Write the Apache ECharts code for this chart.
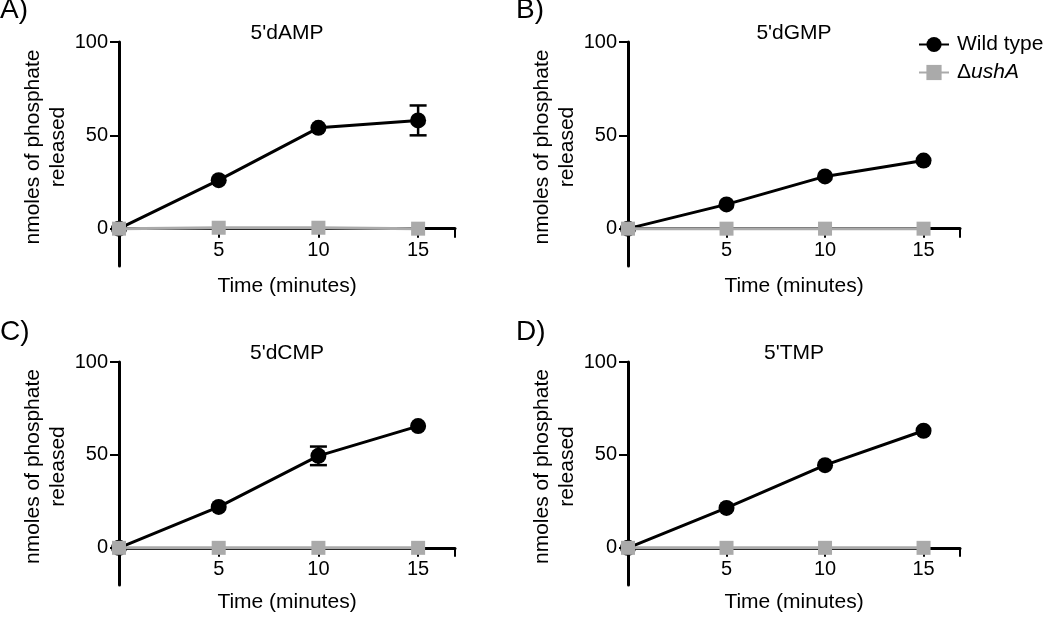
<!DOCTYPE html>
<html>
<head>
<meta charset="utf-8">
<script src="https://cdn.jsdelivr.net/npm/echarts@6/dist/echarts.min.js"></script>
<style>
html,body{margin:0;padding:0;background:#fff;}
#chart{width:1050px;height:617px;}
</style>
</head>
<body>
<div id="chart"></div>
<script>
// ---- data ----
const times = [0, 5, 10, 15];
const panelLetters = ['A)', 'B)', 'C)', 'D)'];
const panelTitles = ["5'dAMP", "5'dGMP", "5'dCMP", "5'TMP"];
const wildType = [
  [0, 26, 54, 58],
  [0, 13, 28, 36.5],
  [0, 22, 49.5, 65.5],
  [0, 21.5, 44.5, 63]
];
const ushA = [
  [0, 0.5, 0.5, 0],
  [0, 0, 0, 0],
  [0, 0, 0, 0],
  [0, 0, 0, 0]
];
// error bars: [time, low, high]
const errorBars = [
  [[15, 50, 66]],
  [],
  [[10, 44.5, 54.5]],
  []
];
const yTicks = [0, 50, 100];
const xTickStep = 5;
const seriesNames = ['Wild type', 'ΔushA'];
const xName = 'Time (minutes)';
const yName = 'nmoles of phosphate\nreleased';

// ---- layout ----
const FONT = '"Liberation Sans", Arial, Helvetica, sans-serif';
const Y_MIN = -20, Y_MAX = 100, X_MAX = 16.85;
const grids = [
  {left: 119, top: 42, width: 336, height: 224},
  {left: 628, top: 42, width: 332, height: 224},
  {left: 119, top: 362, width: 336, height: 223},
  {left: 628, top: 362, width: 332, height: 223}
];
const xNameGaps = [47, 47, 44, 44];
const letterPos = [[0, -4], [516, -4], [0, 318], [516, 318]];
const GRAY = '#aaaaaa';

const option = {
  backgroundColor: '#fff',
  animation: false,
  textStyle: {fontFamily: FONT, color: '#000'},
  title: grids.map((g, i) => ({
    text: panelTitles[i],
    left: g.left + g.width / 2,
    top: g.top - 19,
    textAlign: 'center',
    padding: 0,
    textStyle: {fontFamily: FONT, fontSize: 21, fontWeight: 'normal', color: '#000'}
  })),
  graphic: letterPos.map((p, i) => ({
    type: 'text', left: p[0], top: p[1],
    style: {text: panelLetters[i], font: '28px ' + FONT, fill: '#000'}
  })),
  legend: {
    left: 913, top: 29, orient: 'vertical',
    itemWidth: 30, itemHeight: 19, itemGap: 7,
    data: seriesNames,
    formatter: function (n) { return n === 'ΔushA' ? '{n|Δ}{i|ushA}' : n; },
    textStyle: {
      fontFamily: FONT, fontSize: 21, color: '#000', padding: [0, 0, 0, 3],
      rich: {
        n: {fontFamily: FONT, fontSize: 21, color: '#000'},
        i: {fontFamily: FONT, fontSize: 21, color: '#000', fontStyle: 'italic'}
      }
    }
  },
  grid: grids.map(g => Object.assign({outerBoundsMode: 'none', containLabel: false}, g)),
  xAxis: grids.map((g, i) => ({
    gridIndex: i, type: 'value', min: 0, max: X_MAX, interval: xTickStep,
    position: 'bottom',
    offset: -g.height * (0 - Y_MIN) / (Y_MAX - Y_MIN),
    name: xName, nameLocation: 'middle', nameGap: xNameGaps[i],
    nameTextStyle: {fontFamily: FONT, fontSize: 21, color: '#000'},
    axisLine: {onZero: false, lineStyle: {color: '#000', width: 3}},
    axisTick: {show: true, length: 9, lineStyle: {color: '#000', width: 2}},
    axisLabel: {
      fontFamily: FONT, fontSize: 20, color: '#000', margin: 12,
      formatter: v => (v > 0 && v % xTickStep === 0) ? String(v) : ''
    },
    splitLine: {show: false}
  })),
  yAxis: grids.map((g, i) => ({
    gridIndex: i, type: 'value', min: Y_MIN, max: Y_MAX,
    name: yName, nameLocation: 'middle', nameGap: 46,
    nameTextStyle: {fontFamily: FONT, fontSize: 21, color: '#000', lineHeight: 25, padding: [0, 0, 0, 14]},
    axisLine: {show: true, onZero: false, lineStyle: {color: '#000', width: 3}},
    axisTick: {show: true, length: 9, customValues: yTicks, lineStyle: {color: '#000', width: 2}},
    axisLabel: {fontFamily: FONT, fontSize: 20, color: '#000', margin: 11, customValues: yTicks},
    splitLine: {show: false}
  })),
  series: []
};

grids.forEach((g, i) => {
  option.series.push({
    name: 'Wild type', type: 'line', xAxisIndex: i, yAxisIndex: i,
    data: times.map((t, k) => [t, wildType[i][k]]),
    symbol: 'circle', symbolSize: 16,
    lineStyle: {color: '#000', width: 3},
    itemStyle: {color: '#000'},
    z: 3
  });
  option.series.push({
    name: 'Wild type', type: 'custom', xAxisIndex: i, yAxisIndex: i,
    data: errorBars[i],
    z: 3,
    renderItem: function (params, api) {
      const x = api.value(0), lo = api.value(1), hi = api.value(2);
      const pLo = api.coord([x, lo]);
      const pHi = api.coord([x, hi]);
      const w = 8.5;
      const st = {stroke: '#000', lineWidth: 2.5};
      return {
        type: 'group',
        children: [
          {type: 'line', shape: {x1: pLo[0], y1: pLo[1], x2: pHi[0], y2: pHi[1]}, style: st},
          {type: 'line', shape: {x1: pLo[0] - w, y1: pLo[1], x2: pLo[0] + w, y2: pLo[1]}, style: st},
          {type: 'line', shape: {x1: pHi[0] - w, y1: pHi[1], x2: pHi[0] + w, y2: pHi[1]}, style: st}
        ]
      };
    }
  });
  option.series.push({
    name: 'ΔushA', type: 'line', xAxisIndex: i, yAxisIndex: i,
    data: times.map((t, k) => [t, ushA[i][k]]),
    symbol: 'rect', symbolSize: 14,
    lineStyle: {color: GRAY, width: 3},
    itemStyle: {color: GRAY},
    z: 4
  });
});

const chart = echarts.init(document.getElementById('chart'), null, {renderer: 'canvas'});
chart.setOption(option);
</script>
</body>
</html>
